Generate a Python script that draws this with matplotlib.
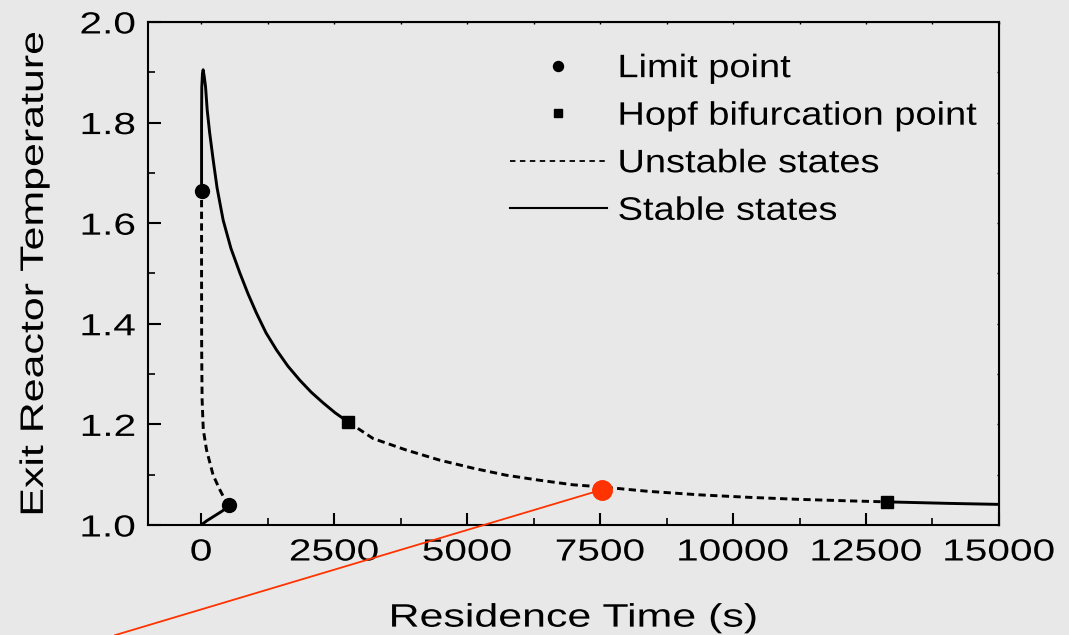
import matplotlib
matplotlib.use("Agg")
from matplotlib import pyplot as plt
from matplotlib.lines import Line2D
from matplotlib.patheffects import AbstractPathEffect
from matplotlib.ticker import MultipleLocator
from matplotlib.transforms import Affine2D

plt.rcParams["font.family"] = ["Liberation Sans", "DejaVu Sans"]

# lower stable branch (solid)
low_x = [0, 100, 250, 400, 527]
low_y = [1.0, 1.008, 1.018, 1.028, 1.039]

# middle unstable branch between the two limit points (dashed)
mid_x = [527, 440, 352, 226, 102, 40, 18, 10, 8, 8]
mid_y = [1.039, 1.052, 1.070, 1.099, 1.149, 1.19, 1.25, 1.35, 1.5, 1.663]

# upper stable branch up to the first Hopf point (solid)
up_x = [8, 8, 12, 25, 38, 60, 83, 114, 160, 226, 300, 414, 560, 728, 880, 1041,
        1220, 1417, 1630, 1854, 2070, 2292, 2520, 2762]
up_y = [1.663, 1.80, 1.87, 1.898, 1.905, 1.89, 1.871, 1.825, 1.78, 1.726, 1.67,
        1.606, 1.55, 1.501, 1.46, 1.421, 1.382, 1.348, 1.316, 1.288, 1.264,
        1.243, 1.223, 1.205]

# unstable branch between the Hopf points (dashed)
hopf_x = [2762, 3232, 3858, 4484, 5110, 5736, 6362, 6988, 7500, 8400, 9366,
          10305, 11244, 12183, 12903]
hopf_y = [1.205, 1.172, 1.149, 1.129, 1.113, 1.099, 1.089, 1.080, 1.076, 1.067,
          1.060, 1.055, 1.051, 1.048, 1.046]

# stable tail after the second Hopf point (solid)
tail_x = [12903, 14061, 15000]
tail_y = [1.046, 1.043, 1.041]

limit_x = [8, 527]
limit_y = [1.663, 1.039]
hopf_pts_x = [2762, 12903]
hopf_pts_y = [1.205, 1.046]

# red highlighted point and its pointer line
red_x = 7530
red_y = 1.07
pointer_x = [-1620, 7530]
pointer_y = [0.781, 1.07]

legend_labels = ["Limit point", "Hopf bifurcation point", "Unstable states", "Stable states"]


class Stretch(AbstractPathEffect):
    """Widen glyphs horizontally, the source figure's text is stretched."""

    def __init__(self, sx, anchor="center"):
        super().__init__()
        self.sx = sx
        self.anchor = anchor

    def draw_path(self, renderer, gc, tpath, affine, rgbFace=None):
        ext = tpath.get_extents()
        if self.anchor == "center":
            x0 = (ext.x0 + ext.x1) / 2
        elif self.anchor == "right":
            x0 = ext.x1
        else:
            x0 = ext.x0
        t = Affine2D().translate(-x0, 0).scale(self.sx, 1).translate(x0, 0)
        renderer.draw_path(gc, tpath, t + affine, rgbFace)


bg = "#e9e8e8"
fig = plt.figure(figsize=(10.69, 6.35), dpi=100, facecolor=bg)
ax = fig.add_axes([0.1384, 0.1732, 0.7961, 0.7922], facecolor=bg)

lw = 2.1
dash = (2.5, 1.5)
ax.plot(low_x, low_y, color="black", lw=lw)
ax.plot(mid_x, mid_y, color="black", lw=lw, ls=(0, dash))
ax.plot(up_x, up_y, color="black", lw=lw)
ax.plot(hopf_x, hopf_y, color="black", lw=lw, ls=(0, dash))
ax.plot(tail_x, tail_y, color="black", lw=lw)
ax.plot(limit_x, limit_y, "o", color="black", ms=10, zorder=5)
ax.plot(hopf_pts_x, hopf_pts_y, "s", color="black", ms=9, zorder=5)

ax.plot(pointer_x, pointer_y, color="#ff3300", lw=1.3, clip_on=False, zorder=6)
ax.plot(red_x, red_y, "o", color="#ff3300", ms=14, clip_on=False, zorder=7)

ax.set_xlim(-1000, 15000)
ax.set_ylim(1.0, 2.0)
ax.xaxis.set_major_locator(MultipleLocator(2500))
ax.xaxis.set_minor_locator(MultipleLocator(1250))
ax.yaxis.set_major_locator(MultipleLocator(0.2))
ax.yaxis.set_minor_locator(MultipleLocator(0.1))
ax.yaxis.set_major_formatter(plt.FormatStrFormatter("%.1f"))

for s in ax.spines.values():
    s.set_linewidth(1.5)
ax.tick_params(which="major", direction="in", length=9, width=1.5,
               labelsize=22, pad=9)
ax.tick_params(which="minor", direction="in", length=4.7, width=1.2)

# tiny ticks on the top and right frame
top = ax.secondary_xaxis("top")
top.set_xticks(range(0, 15001, 2500))
top.xaxis.set_minor_locator(MultipleLocator(1250))
top.tick_params(which="both", direction="in", length=1.5, width=1, labeltop=False)
right = ax.secondary_yaxis("right")
right.yaxis.set_major_locator(MultipleLocator(0.2))
right.yaxis.set_minor_locator(MultipleLocator(0.1))
right.tick_params(which="both", direction="in", length=1.5, width=1, labelright=False)

xl = ax.set_xlabel("Residence Time (s)", fontsize=23.4, labelpad=26)
yl = ax.set_ylabel("Exit Reactor Temperature", fontsize=23.4, labelpad=31)
xl.set_path_effects([Stretch(1.32, "center")])
yl.set_path_effects([Stretch(1.32, "center")])

handles = [
    Line2D([], [], ls="none", marker="o", color="black", ms=7.2),
    Line2D([], [], ls="none", marker="s", color="black", ms=5.8),
    Line2D([], [], color="black", lw=1.3, ls=(0, (3, 2.5))),
    Line2D([], [], color="black", lw=1.5),
]
leg = ax.legend(handles, legend_labels, loc="upper left", bbox_to_anchor=(0.425, 0.936),
                frameon=False, fontsize=23.4, handlelength=3.0, handletextpad=0.33,
                labelspacing=0.54, borderpad=0, borderaxespad=0)
for t in leg.get_texts():
    t.set_path_effects([Stretch(1.17, "left")])

fig.canvas.draw()
for lbl in ax.get_xticklabels():
    lbl.set_path_effects([Stretch(1.33, "center")])
for lbl in ax.get_yticklabels():
    lbl.set_path_effects([Stretch(1.33, "right")])

fig.savefig("out.png", dpi=100, facecolor=bg)
